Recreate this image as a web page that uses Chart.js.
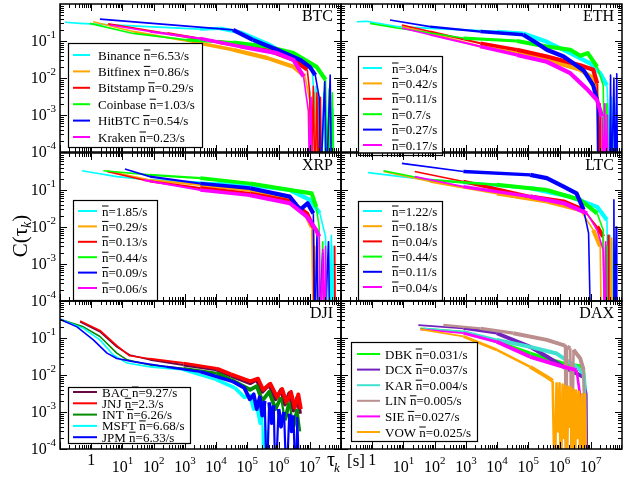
<!DOCTYPE html>
<html>
<head>
<meta charset="utf-8">
<script src="https://cdn.jsdelivr.net/npm/chart.js@4.4.1/dist/chart.umd.min.js"></script>
<style>
  html, body { margin: 0; padding: 0; background: #fff; }
  #wrap { position: relative; width: 635px; height: 478px; }
  #wrap canvas { position: absolute; left: 0; top: 0; }
</style>
</head>
<body>
<div id="wrap"></div>
<script>
// inter-trade time autocorrelation C(tau_k), pairs of [tau in s, C]

// BTC
const btcNames = ['Binance', 'Bitfinex', 'Bitstamp', 'Coinbase', 'HitBTC', 'Kraken']
const btcRates = [6.53, 0.86, 0.29, 1.03, 0.54, 0.23]
const btcBinance = [[0.145, 0.32], [0.44, 0.30], [3e3, 0.21], [1.3e4, 0.22], [6e4, 0.17], [5e5, 0.08], [2.3e6, 0.037], [7e6, 0.025], [1.2e7, 0.017], [1.5e7, 0.0008], [1.6e7, 0.006], [1.75e7, 1e-5], [2e7, 0.003], [2.3e7, 1e-5], [2.8e7, 0.004], [3.2e7, 1e-5], [4e7, 0.002], [4.5e7, 1e-5], [5.5e7, 0.0015], [6e7, 1e-5]]
const btcBitfinex = [[1.15, 0.33], [22, 0.18], [3e3, 0.087], [3.5e4, 0.058], [4.2e5, 0.035], [3e6, 0.02], [7e6, 0.011], [1e7, 0.0025], [1.1e7, 1e-5], [1.4e7, 0.004], [1.55e7, 1e-5], [1.8e7, 0.003], [2e7, 1e-5]]
const btcBitstamp = [[3.5, 0.29], [270, 0.16], [1.1e4, 0.095], [4.2e5, 0.058], [3e6, 0.031], [8.3e6, 0.017], [1e7, 0.004], [1.1e7, 1e-5], [1.3e7, 0.006], [1.45e7, 1e-5], [1.7e7, 0.004], [1.9e7, 1e-5], [2.2e7, 0.003], [2.4e7, 1e-5]]
const btcCoinbase = [[0.9, 0.30], [22, 0.16], [1.15e3, 0.107], [3.5e4, 0.091], [4.2e5, 0.071], [3e6, 0.047], [1.65e7, 0.02], [3.2e7, 0.009], [3.6e7, 1e-5], [4.2e7, 0.005], [4.6e7, 1e-5], [5.3e7, 0.004], [5.8e7, 1e-5]]
const btcHitbtc = [[1.9, 0.39], [3.5e4, 0.2], [1.5e5, 0.107], [9e5, 0.058], [4.9e6, 0.031], [1e7, 0.02], [1.5e7, 0.012], [2e7, 0.003], [2.2e7, 1e-5], [3e7, 0.008], [3.4e7, 1e-5], [4.5e7, 0.012], [5e7, 1e-5]]
const btcKraken = [[4, 0.27], [76, 0.18], [3.1e3, 0.117], [5.9e4, 0.071], [9e5, 0.047], [3e6, 0.031], [6.3e6, 0.011], [9e6, 0.0013], [1e7, 1e-5], [1.1e7, 0.003], [1.2e7, 1e-5]]

// ETH
const ethRates = [3.04, 0.42, 0.11, 0.7, 0.27, 0.17]
const ethBinance = [[0.32, 0.33], [0.66, 0.34], [6.2, 0.245], [9.8e3, 0.18], [6.9e4, 0.16], [3.9e5, 0.095], [2.2e6, 0.047], [9.5e6, 0.025], [2e7, 0.0135], [3.3e7, 0.0063], [3.8e7, 0.0006], [4e7, 1e-5], [4.6e7, 0.003], [5e7, 1e-5], [5.8e7, 0.002], [6.5e7, 1e-5]]
const ethBitfinex = [[8.9, 0.245], [71, 0.162], [2.9e3, 0.071], [4.3e4, 0.047], [3.9e5, 0.031], [4.6e6, 0.0166], [1.2e7, 0.01], [1.6e7, 0.0063], [1.7e7, 1e-5]]
const ethBitstamp = [[8.9, 0.27], [71, 0.18], [2.9e3, 0.087], [4.3e4, 0.058], [3.9e5, 0.038], [4.6e6, 0.022], [1.2e7, 0.0166], [1.6e7, 0.0072], [1.8e7, 1e-5], [2e7, 0.002], [2.2e7, 1e-5]]
const ethCoinbase = [[0.85, 0.30], [6.2, 0.224], [830, 0.12], [4.3e4, 0.1], [3.9e5, 0.071], [2.2e6, 0.058], [4.6e6, 0.04], [8e6, 0.047], [1.6e7, 0.02], [2.5e7, 0.0063], [2.8e7, 1e-5], [3.1e7, 0.002], [3.3e7, 1e-5]]
const ethHitbtc = [[3.7, 0.37], [71, 0.245], [2.9e3, 0.18], [6.9e4, 0.148], [1.9e5, 0.087], [3.9e5, 0.058], [1.35e6, 0.038], [5.9e6, 0.016], [1.2e7, 0.0063], [1.6e7, 0.0025], [1.7e7, 1e-5], [4e7, 1e-5], [4.3e7, 0.012], [4.6e7, 1e-5], [5.5e7, 0.01], [6e7, 1e-5], [6.8e7, 0.013], [7.2e7, 1e-5]]
const ethKraken = [[8.9, 0.224], [71, 0.148], [2.9e3, 0.071], [4.3e4, 0.042], [3.9e5, 0.0275], [2.2e6, 0.0135], [7.6e6, 0.005], [1.6e7, 0.0025], [2.3e7, 0.0009], [2.5e7, 1e-5], [2.8e7, 0.002], [3e7, 1e-5], [3.4e7, 0.001], [3.6e7, 1e-5]]

// XRP
const xrpRates = [1.85, 0.29, 0.13, 0.44, 0.09, 0.06]
const xrpBinance = [[0.5, 0.33], [6.6, 0.23], [76, 0.186], [1.05e4, 0.15], [1.23e5, 0.138], [2.3e6, 0.1], [1e7, 0.054], [2.1e7, 0.0234], [3.2e7, 0.0055], [3.4e7, 1e-5], [3.9e7, 0.004], [4.3e7, 1e-5], [4.9e7, 0.006], [5.3e7, 1e-5], [5.8e7, 0.003], [6.2e7, 1e-5]]
const xrpBitfinex = [[3.2, 0.33], [76, 0.186], [3.1e3, 0.138], [1.23e5, 0.1], [2.3e6, 0.054], [8.1e6, 0.019], [1.15e7, 0.01], [1.3e7, 1e-5], [1.45e7, 0.003], [1.6e7, 1e-5]]
const xrpBitstamp = [[3.2, 0.316], [76, 0.17], [3.1e3, 0.112], [1.23e5, 0.079], [2.3e6, 0.05], [8.1e6, 0.0234], [1.3e7, 0.01], [1.4e7, 1e-5], [6e7, 1e-5], [6.3e7, 0.003], [6.6e7, 1e-5]]
const xrpCoinbase = [[2.45, 0.33], [76, 0.257], [3.1e3, 0.209], [1.23e5, 0.15], [2.3e6, 0.1], [1.15e7, 0.081], [1.6e7, 0.035], [2e7, 0.01], [2.2e7, 1e-5], [2.6e7, 0.004], [2.9e7, 1e-5]]
const xrpHitbtc = [[12, 0.37], [76, 0.23], [3.1e3, 0.15], [1.23e5, 0.112], [2.3e6, 0.066], [4.9e6, 0.029], [8.5e6, 0.044], [1.3e7, 0.0234], [1.45e7, 1e-5], [1.7e7, 0.006], [1.9e7, 1e-5], [2.6e7, 0.002], [2.9e7, 1e-5], [4e7, 0.004], [4.4e7, 1e-5]]
const xrpKraken = [[47, 0.186], [3.1e3, 0.1], [1.23e5, 0.072], [2.3e6, 0.044], [8.1e6, 0.019], [1.6e7, 0.0083], [2e7, 0.0055], [2.2e7, 1e-5], [2.6e7, 0.0025], [2.9e7, 1e-5], [3.2e7, 0.003], [3.4e7, 1e-5]]

// LTC
const ltcRates = [1.22, 0.18, 0.04, 0.44, 0.11, 0.04]
const ltcBinance = [[0.74, 0.295], [21, 0.209], [830, 0.158], [1.15e5, 0.112], [2.2e6, 0.066], [1.6e7, 0.035], [3.3e7, 0.0155], [3.6e7, 1e-5], [4.1e7, 0.006], [4.5e7, 1e-5], [5.3e7, 0.004], [5.6e7, 1e-5]]
const ltcBitfinex = [[2.3, 0.316], [71, 0.17], [9.8e3, 0.081], [3.9e5, 0.049], [4.6e6, 0.029], [1.2e7, 0.0083], [2e7, 0.003], [2.2e7, 1e-5], [4.3e7, 1e-5], [4.5e7, 0.005], [4.7e7, 1e-5]]
const ltcBitstamp = [[23, 0.316], [830, 0.17], [1.15e5, 0.066], [1.35e6, 0.049], [5.9e6, 0.029], [1.6e7, 0.0102], [2.5e7, 0.0055], [2.8e7, 1e-5], [3.4e7, 1e-5], [3.6e7, 0.006], [3.8e7, 1e-5]]
const ltcCoinbase = [[2.3, 0.33], [71, 0.186], [9.8e3, 0.138], [3.9e5, 0.1], [4.6e6, 0.054], [1.6e7, 0.0234], [2.5e7, 0.0083], [2.8e7, 1e-5], [3.1e7, 0.003], [3.3e7, 1e-5]]
const ltcHitbtc = [[8.9, 0.525], [830, 0.316], [1.15e5, 0.257], [3.9e5, 0.209], [1.35e6, 0.123], [3.5e6, 0.081], [5.9e6, 0.029], [8.5e6, 0.0068], [1e7, 1e-5], [5.2e7, 1e-5], [5.5e7, 0.054], [5.8e7, 1e-5], [6.5e7, 0.01], [6.8e7, 1e-5]]
const ltcKraken = [[23, 0.23], [830, 0.123], [1.15e5, 0.066], [1.35e6, 0.044], [7.6e6, 0.0234], [1.6e7, 0.0083], [2.5e7, 0.0024], [2.8e7, 1e-5], [3e7, 0.004], [3.2e7, 1e-5]]

// DJI
const djiNames = ['BAC', 'JNJ', 'INT', 'MSFT', 'JPM']
const djiRates = [9.27, 2.3, 6.26, 6.68, 6.33]
const djiBac = [[0.44, 0.275], [1.9, 0.148], [6.6, 0.0575], [17, 0.0347], [76, 0.0257], [900, 0.0186], [1.05e4, 0.0138], [3e4, 0.0095], [1.23e5, 0.006], [2e5, 0.0075], [3e5, 0.0035], [5e5, 0.0055], [8e5, 0.0022], [1.2e6, 0.004], [1.6e6, 0.0016], [2.2e6, 0.0032], [3e6, 0.0011], [4e6, 0.0025], [4.9e6, 0.0009]]
const djiJnj = [[0.44, 0.29], [1.9, 0.16], [6.6, 0.062], [17, 0.033], [76, 0.0275], [900, 0.021], [1.05e4, 0.015], [3e4, 0.0105], [1.23e5, 0.0068], [2.2e5, 0.008], [3.2e5, 0.004], [5.5e5, 0.0058], [9e5, 0.0025], [1.3e6, 0.0042], [1.8e6, 0.0018], [2.5e6, 0.0035], [3.3e6, 0.0013], [4.3e6, 0.003], [5.2e6, 0.0012]]
const djiInt = [[0.1, 0.32], [0.56, 0.2], [1.9, 0.11], [6.6, 0.039], [14, 0.0257], [76, 0.0186], [900, 0.015], [1.05e4, 0.0112], [3e4, 0.0075], [1.23e5, 0.004], [2e5, 0.005], [3e5, 0.002], [5e5, 0.0035], [8e5, 0.0012], [1.2e6, 0.0025], [1.6e6, 0.0006], [2.2e6, 0.0018], [3e6, 0.0004], [4e6, 0.0012], [4.9e6, 0.0003]]
const djiMsft = [[0.1, 0.32], [0.56, 0.182], [1.9, 0.089], [5.1, 0.0347], [14, 0.021], [76, 0.0166], [900, 0.0138], [1.05e4, 0.0074], [4e4, 0.0045], [8e4, 0.0025], [1.23e5, 0.0028], [1.6e5, 0.0012], [2e5, 0.0016], [2.6e5, 0.0005], [3e5, 0.0008], [3.3e5, 1e-5], [3.7e5, 0.0005], [4e5, 1e-5], [4.5e5, 0.0003], [4.8e5, 1e-5]]
const djiJpm = [[0.1, 0.32], [0.35, 0.2], [1.17, 0.089], [3.2, 0.039], [6.6, 0.028], [22, 0.023], [263, 0.0166], [3.1e3, 0.0123], [3.5e4, 0.0066], [8e4, 0.0045], [1.2e5, 0.0022], [1.6e5, 0.003], [2e5, 0.0012], [2.5e5, 0.0025], [3e5, 0.0008], [3.6e5, 0.002], [4.2e5, 1e-5], [5e5, 0.0018], [6e5, 0.0005], [7e5, 0.0015], [8e5, 1e-5], [1e6, 0.0012], [1.2e6, 0.0004], [1.5e6, 0.001], [1.8e6, 1e-5], [2.2e6, 0.0009], [2.6e6, 0.0003], [3e6, 0.0008], [3.5e6, 1e-5], [4e6, 0.0007], [4.6e6, 1e-5]]

// DAX
const daxNames = ['DBK', 'DCX', 'KAR', 'LIN', 'SIE', 'VOW']
const daxRates = [0.031, 0.037, 0.004, 0.005, 0.027, 0.025]
const daxDbk = [[35, 0.182], [830, 0.148], [9.8e3, 0.079], [1.15e5, 0.038], [1.35e6, 0.0204], [5.9e6, 0.0166], [6.5e6, 0.004], [7e6, 1e-5]]
const daxDcx = [[30, 0.224], [830, 0.182], [9.8e3, 0.135], [1.15e5, 0.0575], [3.9e5, 0.0316], [1.35e6, 0.0166], [3.5e6, 0.011], [5.9e6, 0.0089], [7.2e6, 0.003], [7.6e6, 1e-5]]
const daxKar = [[44, 0.182], [830, 0.148], [9.8e3, 0.089], [1.15e5, 0.0575], [8.1e5, 0.038], [3.5e6, 0.0166], [5.9e6, 0.011], [6.5e6, 0.004], [7e6, 1e-5]]
const daxLin = [[190, 0.224], [2.9e3, 0.182], [3.3e4, 0.135], [3.9e5, 0.089], [1.5e6, 0.062], [1.6e6, 1e-5], [1.75e6, 0.058], [2.2e6, 0.0525], [2.5e6, 1e-5], [2.8e6, 0.048], [4.6e6, 0.028], [5.9e6, 0.0135], [6.3e6, 1e-5]]
const daxSie = [[35, 0.17], [830, 0.135], [9.8e3, 0.079], [1.15e5, 0.031], [1.35e6, 0.0166], [3.5e6, 0.0135], [4.5e6, 0.003], [5e6, 1e-5]]
const daxVow = [[35, 0.17], [830, 0.11], [9.8e3, 0.048], [1.15e5, 0.0166], [3.9e5, 0.0089], [6e5, 0.007], [7e5, 1e-5], [8e5, 0.006], [9e5, 0.0003], [1e6, 0.006], [1.1e6, 1e-5], [1.25e6, 0.0055], [1.4e6, 0.0002], [1.55e6, 0.005], [1.7e6, 1e-5], [1.9e6, 0.0048], [2.1e6, 0.0004], [2.3e6, 0.0045], [2.5e6, 1e-5], [2.8e6, 0.004], [3.1e6, 1e-5], [3.4e6, 0.0038], [3.8e6, 0.0002], [4.2e6, 0.0035], [4.7e6, 1e-5], [5.2e6, 0.003], [5.8e6, 1e-5], [6.5e6, 0.003], [7.2e6, 1e-5]]

const xDecades = [1, 10, 100, 1e3, 1e4, 1e5, 1e6, 1e7]
const yDecades = [1e-1, 1e-2, 1e-3, 1e-4]

const cryptoColors = ['#00ffff', '#ffa500', '#ff0000', '#00ff00', '#0000ff', '#ff00ff']
const djiColors = ['#670748', '#ff0000', '#008b00', '#00ffff', '#0000ff']
const daxColors = ['#00ff00', '#7221bc', '#40e0d0', '#bc8f8f', '#ff00ff', '#ffa500']

const W = 635
const H = 478
const colX = [60, 341]
const rowY = [4, 153, 301]
const PW = 281
const PH = 148
const SERIF = '"Liberation Serif", "Times New Roman", serif'

const crypto = { rate: 0.9, max: 4.2, jump: 0.45, spike: 1.6 }

const panels = [
  { name: 'BTC', col: 0, row: 0, colors: cryptoColors, noise: crypto,
    series: [btcBinance, btcBitfinex, btcBitstamp, btcCoinbase, btcHitbtc, btcKraken],
    names: btcNames, rates: btcRates,
    legend: { x: 68, y: 43, w: 134, h: 104, y0: 55, dy: 16.4, l0: 73, l1: 90, tx: 98 } },
  { name: 'ETH', col: 1, row: 0, colors: cryptoColors, noise: crypto,
    series: [ethBinance, ethBitfinex, ethBitstamp, ethCoinbase, ethHitbtc, ethKraken],
    names: null, rates: ethRates,
    legend: { x: 358, y: 56, w: 84, h: 99, y0: 68, dy: 15.4, l0: 363, l1: 382, tx: 392 } },
  { name: 'XRP', col: 0, row: 1, colors: cryptoColors, noise: crypto,
    series: [xrpBinance, xrpBitfinex, xrpBitstamp, xrpCoinbase, xrpHitbtc, xrpKraken],
    names: null, rates: xrpRates,
    legend: { x: 73, y: 200, w: 84, h: 100, y0: 211, dy: 15.4, l0: 78, l1: 97, tx: 102 } },
  { name: 'LTC', col: 1, row: 1, colors: cryptoColors, noise: crypto,
    series: [ltcBinance, ltcBitfinex, ltcBitstamp, ltcCoinbase, ltcHitbtc, ltcKraken],
    names: null, rates: ltcRates,
    legend: { x: 358, y: 201, w: 84, h: 99, y0: 211, dy: 15.2, l0: 363, l1: 382, tx: 392 } },
  { name: 'DJI', col: 0, row: 2, colors: djiColors, noise: { rate: 0.9, max: 3.8, jump: 0.6, spike: 2.2 },
    series: [djiBac, djiJnj, djiInt, djiMsft, djiJpm],
    names: djiNames, rates: djiRates,
    legend: { x: 68, y: 387, w: 122, h: 56, y0: 392, dy: 11.3, l0: 73, l1: 97, tx: 102 } },
  { name: 'DAX', col: 1, row: 2, colors: daxColors, noise: { rate: 0.9, max: 4, jump: 0.45, spike: 2.6 },
    series: [daxDbk, daxDcx, daxKar, daxLin, daxSie, daxVow],
    names: daxNames, rates: daxRates,
    legend: { x: 351, y: 342, w: 126, h: 99, y0: 354, dy: 15.6, l0: 357, l1: 380, tx: 385 } }
]

// wider strokes where the measured curves turn noisy, narrow ones for the drops
function segWidth (ctx, noise) {
  const a = ctx.p0.parsed
  const b = ctx.p1.parsed
  if (Math.abs(Math.log10(b.y / a.y)) > noise.jump) return noise.spike
  const lx = (Math.log10(a.x) + Math.log10(b.x)) / 2
  return Math.min(noise.max, 1.6 + Math.max(0, lx - 2) * noise.rate)
}

// "10" with a raised exponent
function drawPow (ctx, exp, x, y, align) {
  ctx.font = '16px ' + SERIF
  const wb = ctx.measureText('10').width
  ctx.font = '11px ' + SERIF
  const we = ctx.measureText(exp).width
  const total = wb + we
  const x0 = align === 'right' ? x - total : x - total / 2
  ctx.font = '16px ' + SERIF
  ctx.fillText('10', x0, y)
  ctx.font = '11px ' + SERIF
  ctx.fillText(exp, x0 + wb, y - 8)
}

function drawLegend (ctx, panel) {
  const lg = panel.legend
  ctx.fillStyle = '#fff'
  ctx.fillRect(lg.x, lg.y, lg.w, lg.h)
  ctx.strokeStyle = '#000'
  ctx.lineWidth = 1.2
  ctx.strokeRect(lg.x + 0.5, lg.y + 0.5, lg.w, lg.h)
  ctx.font = '13px ' + SERIF
  ctx.textBaseline = 'alphabetic'
  panel.rates.forEach((r, i) => {
    const y = lg.y0 + i * lg.dy
    ctx.strokeStyle = panel.colors[i]
    ctx.lineWidth = 2
    ctx.beginPath()
    ctx.moveTo(lg.l0, y)
    ctx.lineTo(lg.l1, y)
    ctx.stroke()
    const base = y + 4.5
    let x = lg.tx
    ctx.fillStyle = '#000'
    if (panel.names) {
      const pre = panel.names[i] + ' '
      ctx.fillText(pre, x, base)
      x += ctx.measureText(pre).width
    }
    ctx.fillText('n', x, base)
    const nw = ctx.measureText('n').width
    ctx.strokeStyle = '#000'
    ctx.lineWidth = 1
    ctx.beginPath()
    ctx.moveTo(x, base - 9.5)
    ctx.lineTo(x + nw, base - 9.5)
    ctx.stroke()
    ctx.fillText('=' + r + '/s', x + nw, base)
  })
}

function drawTitles (ctx) {
  ctx.save()
  ctx.fillStyle = '#000'
  ctx.textBaseline = 'alphabetic'
  // y title, rotated
  ctx.translate(27, 236)
  ctx.rotate(-Math.PI / 2)
  ctx.font = '21px ' + SERIF
  const a = ctx.measureText('C(\u03c4').width
  ctx.font = 'italic 14px ' + SERIF
  const k = ctx.measureText('k').width
  ctx.font = '21px ' + SERIF
  const c = ctx.measureText(')').width
  const x = -(a + k + c) / 2
  ctx.fillText('C(\u03c4', x, 0)
  ctx.font = 'italic 14px ' + SERIF
  ctx.fillText('k', x + a, 4)
  ctx.font = '21px ' + SERIF
  ctx.fillText(')', x + a + k, 0)
  ctx.restore()

  // x title between the bottom panels
  ctx.save()
  ctx.fillStyle = '#000'
  ctx.font = '20px ' + SERIF
  ctx.fillText('\u03c4', 327, 466)
  const t = ctx.measureText('\u03c4').width
  ctx.font = 'italic 13px ' + SERIF
  ctx.fillText('k', 327 + t - 1, 472)
  ctx.font = '17px ' + SERIF
  ctx.fillText('[s]', 347, 466)
  ctx.restore()
}

function panelDecor (panel, withTitles) {
  return {
    id: 'panelDecor',
    afterDatasetsDraw (chart) {
      const ctx = chart.ctx
      const { left, right, top, bottom } = chart.chartArea
      const xs = chart.scales.x
      const ys = chart.scales.y
      ctx.save()

      // inward ticks on all four sides
      ctx.strokeStyle = '#000'
      ctx.lineWidth = 1
      ctx.beginPath()
      for (let e = -1; e <= 7; e++) {
        for (let m = 1; m <= 9; m++) {
          const px = Math.round(xs.getPixelForValue(m * Math.pow(10, e))) + 0.5
          const len = m === 1 ? 7 : 4
          ctx.moveTo(px, bottom)
          ctx.lineTo(px, bottom - len)
          ctx.moveTo(px, top)
          ctx.lineTo(px, top + len)
        }
      }
      for (let e = -4; e <= -1; e++) {
        for (let m = 1; m <= 9; m++) {
          const py = Math.round(ys.getPixelForValue(m * Math.pow(10, e))) + 0.5
          const len = m === 1 ? 7 : 4
          ctx.moveTo(left, py)
          ctx.lineTo(left + len, py)
          ctx.moveTo(right, py)
          ctx.lineTo(right - len, py)
        }
      }
      ctx.stroke()

      ctx.lineWidth = 1.5
      ctx.strokeRect(left, top, right - left, bottom - top)

      // panel name
      ctx.fillStyle = '#000'
      ctx.font = '16px ' + SERIF
      ctx.textAlign = 'right'
      ctx.textBaseline = 'alphabetic'
      ctx.fillText(panel.name, right - 8, top + 17)
      ctx.textAlign = 'left'

      // tick labels on the outer edges only
      if (panel.col === 0) {
        yDecades.forEach(v => {
          const py = ys.getPixelForValue(v)
          drawPow(ctx, String(Math.round(Math.log10(v))), 56, py + 5, 'right')
        })
      }
      if (panel.row === 2) {
        xDecades.forEach(v => {
          const px = xs.getPixelForValue(v)
          const e = Math.round(Math.log10(v))
          if (e === 0) {
            ctx.font = '16px ' + SERIF
            ctx.textAlign = 'center'
            ctx.fillText('1', px, 465)
            ctx.textAlign = 'left'
          } else {
            drawPow(ctx, String(e), px, 472, 'center')
          }
        })
      }

      drawLegend(ctx, panel)
      if (withTitles) drawTitles(ctx)
      ctx.restore()
    }
  }
}

const wrap = document.getElementById('wrap')

panels.forEach((panel, pi) => {
  const canvas = document.createElement('canvas')
  canvas.width = W
  canvas.height = H
  wrap.appendChild(canvas)
  const x0 = colX[panel.col]
  const y0 = rowY[panel.row]
  const n = panel.series.length
  new Chart(canvas, {
    type: 'line',
    data: {
      datasets: panel.series.map((pts, i) => ({
        data: pts.map(([x, y]) => ({ x, y })),
        borderColor: panel.colors[i],
        borderWidth: 1.6,
        borderJoinStyle: 'round',
        pointRadius: 0,
        tension: 0,
        clip: 0,
        order: n - i,
        segment: { borderWidth: ctx => segWidth(ctx, panel.noise) }
      }))
    },
    options: {
      responsive: false,
      animation: false,
      events: [],
      layout: { padding: { left: x0, top: y0, right: W - x0 - PW, bottom: H - y0 - PH } },
      scales: {
        x: { type: 'logarithmic', min: 0.1, max: 1e8, display: false },
        y: { type: 'logarithmic', min: 1e-4, max: 1, display: false }
      },
      plugins: {
        legend: { display: false },
        tooltip: { enabled: false }
      }
    },
    plugins: [panelDecor(panel, pi === 0)]
  })
})
</script>
</body>
</html>
